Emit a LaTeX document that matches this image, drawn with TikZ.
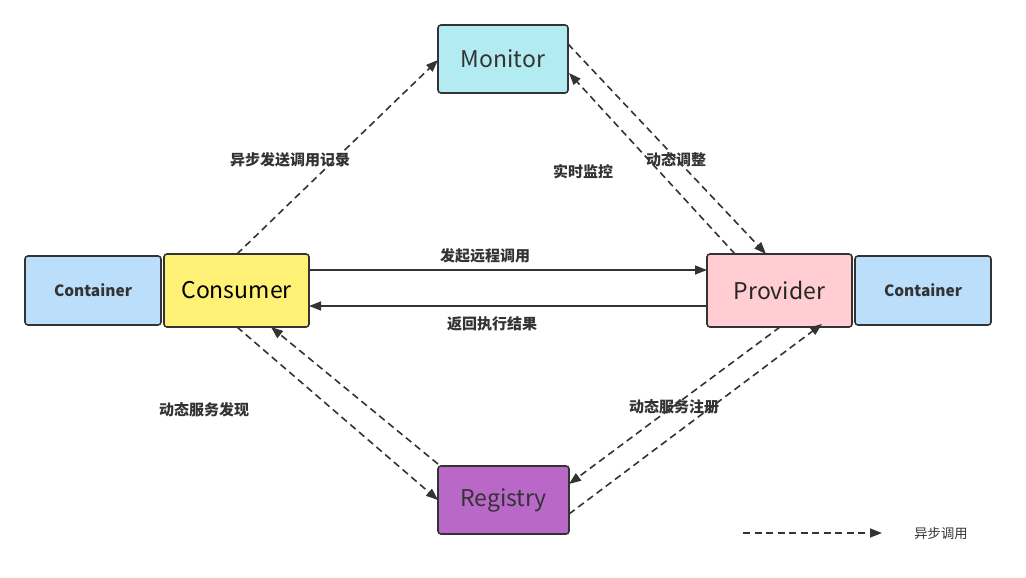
\documentclass[tikz,border=0pt]{standalone}
\usepackage{fontspec}
\setmainfont{Noto Sans CJK SC}
\usetikzlibrary{arrows.meta}
\definecolor{edge}{HTML}{333333}
\definecolor{cmon}{HTML}{B2EBF2}
\definecolor{ccons}{HTML}{FFF176}
\definecolor{cprov}{HTML}{FFCDD2}
\definecolor{ccont}{HTML}{BBDEFB}
\definecolor{creg}{HTML}{BA68C8}
\begin{document}
\begin{tikzpicture}[x=1pt,y=-1pt,
  box/.style={draw=edge,line width=1.6pt,rounded corners=3pt,inner sep=0pt,text=edge,font=\fontsize{23}{25}\selectfont},
  contbox/.style={box,fill=ccont,font=\fontsize{15.5}{17}\selectfont\bfseries,minimum width=136pt,minimum height=69pt},
  conn/.style={draw=edge,line width=1.6pt,-{Triangle[length=12pt,width=9pt]}},
  async/.style={conn,dash pattern=on 7pt off 4.5pt},
  lbl/.style={text=edge,font=\fontsize{15}{17}\selectfont\bfseries,inner sep=1pt}]
\useasboundingbox (0,0) rectangle (1026,578);
\node[box,fill=cmon,minimum width=130pt,minimum height=68pt] (mon) at (503,59) {Monitor};
\node[box,fill=ccons,minimum width=145pt,minimum height=73pt,text=black] (cons) at (236.5,290.5) {Consumer};
\node[box,fill=cprov,minimum width=145pt,minimum height=73pt,text=black!85] (prov) at (779.5,290.5) {Provider};
\node[box,fill=creg,minimum width=131pt,minimum height=68pt] (reg) at (503.5,500) {Registry};
\node[contbox] (contl) at (93,290.5) {Container};
\node[contbox] (contr) at (923,290.5) {Container};
% coordinates on borders
\coordinate (c1) at (237,254);
\coordinate (m1) at (438,60);
\coordinate (m2) at (568,44);
\coordinate (p1) at (766,254);
\coordinate (p2) at (735,254);
\coordinate (m3) at (569,73);
\coordinate (cr) at (309,270);
\coordinate (pl) at (707,270);
\coordinate (pl2) at (707,306);
\coordinate (cr2) at (309,306);
\coordinate (c2) at (237,327);
\coordinate (r1) at (438,500);
\coordinate (r2) at (438,464);
\coordinate (c3) at (271,327);
\coordinate (p3) at (780,327);
\coordinate (r3) at (569,484);
\coordinate (r4) at (569,514);
\coordinate (p4) at (822,324);
\draw[async] (c1) -- (m1);
\draw[async] (m2) -- (p1);
\draw[async] (p2) -- (m3);
\draw[conn] (cr) -- (pl);
\draw[conn] (pl2) -- (cr2);
\draw[async] (c2) -- (r1);
\draw[async] (r2) -- (c3);
\draw[async] (p3) -- (r3);
\draw[async] (r4) -- (p4);
% labels
\node[lbl] (l1) at (290,160) {异步发送调用记录};
\node[lbl] (l2) at (676,160) {动态调整};
\node[lbl] (l3) at (583,172) {实时监控};
\node[lbl] (l4) at (485,256) {发起远程调用};
\node[lbl] (l5) at (492,324) {返回执行结果};
\node[lbl] (l6) at (204,410) {动态服务发现};
\node[lbl] (l7) at (674,407) {动态服务注册};
% legend
\coordinate (lg1) at (743,533);
\coordinate (lg2) at (882,533);
\draw[async] (lg1) -- (lg2);
\node[text=edge,font=\fontsize{13.3}{15}\selectfont] (lgt) at (941,533) {异步调用};
\end{tikzpicture}
\end{document}
